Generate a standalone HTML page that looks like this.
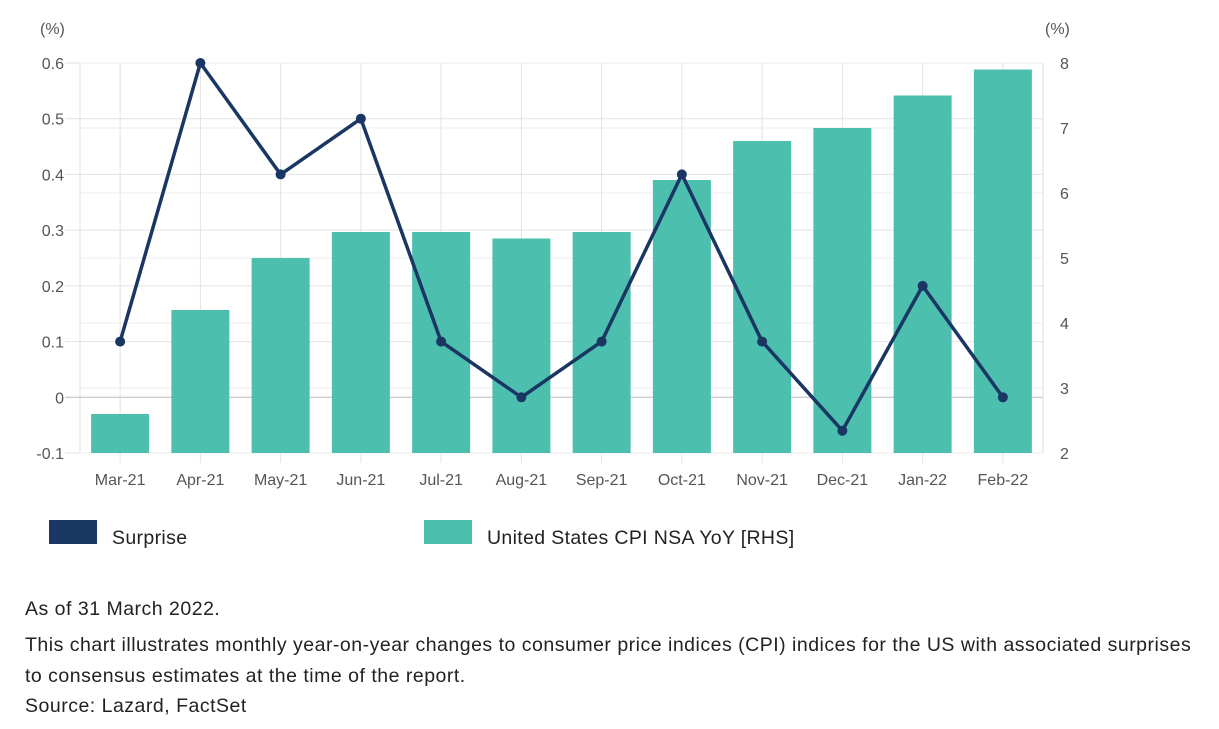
<!DOCTYPE html>
<html><head><meta charset="utf-8"><style>
body{margin:0;background:#fff;font-family:"Liberation Sans",sans-serif;}
.note{position:absolute;left:25px;font-size:19.5px;letter-spacing:0.5px;color:#222;}
</style></head><body>
<svg width="1219" height="729" style="position:absolute;left:0;top:0">
<g id="grid"></g><g id="bars"></g><g id="line"></g><g id="axes"></g>
<text x="40" y="34" font-size="16" fill="#555">(%)</text>
<text x="1045" y="34" font-size="16" fill="#555">(%)</text>
<rect x="49" y="520" width="48" height="24" fill="#1a3663"/>
<text x="112" y="544" font-size="19.5" letter-spacing="0.35" fill="#222">Surprise</text>
<rect x="424" y="520" width="48" height="24" fill="#4dbfae"/>
<text x="487" y="544" font-size="19.5" letter-spacing="0.35" fill="#222">United States CPI NSA YoY [RHS]</text>
</svg>
<div class="note" style="top:598px">As of 31 March 2022.</div>
<div class="note" style="top:630px;line-height:31px;width:1188px">This chart illustrates monthly year-on-year changes to consumer price indices (CPI) indices for the US with associated surprises to consensus estimates at the time of the report.</div>
<div class="note" style="top:695px">Source: Lazard, FactSet</div>
<script>
const categories=["Mar-21","Apr-21","May-21","Jun-21","Jul-21","Aug-21","Sep-21","Oct-21","Nov-21","Dec-21","Jan-22","Feb-22"];
const cpiValues=[2.6,4.2,5.0,5.4,5.4,5.3,5.4,6.2,6.8,7.0,7.5,7.9];
const surpriseValues=[0.1,0.6,0.4,0.5,0.1,0,0.1,0.4,0.1,-0.06,0.2,0];
const leftTicks=[-0.1,0,0.1,0.2,0.3,0.4,0.5,0.6];
const rightTicks=[2,3,4,5,6,7,8];
const NS="http://www.w3.org/2000/svg";
const X0=80,X1=1043,Y0=63,Y1=453;
const bw=(X1-X0)/categories.length;
const xc=i=>X0+bw*(i+0.5);
const yL=v=>Y1-(v+0.1)/0.7*(Y1-Y0);
const yR=v=>Y1-(v-2)/6*(Y1-Y0);
function mk(parent,tag,attrs,txt){const e=document.createElementNS(NS,tag);for(const k in attrs)e.setAttribute(k,attrs[k]);if(txt!==undefined)e.textContent=txt;document.getElementById(parent).appendChild(e);return e;}
leftTicks.forEach(t=>{
 const e=mk("grid","line",{x1:X0-15,x2:X1,y1:yL(t),y2:yL(t),stroke:t===0?"#bbb":"#e2e2e2","stroke-width":1});
 
 
 const l=mk("axes","text",{x:64,y:yL(t)+6,"text-anchor":"end","font-size":16,fill:"#555"},String(t));
 
 
});
rightTicks.forEach(t=>{
 const e=mk("grid","line",{x1:X0,x2:X1,y1:yR(t),y2:yR(t),stroke:"#eee","stroke-width":1});
 
 
 const l=mk("axes","text",{x:1060,y:yR(t)+6,"font-size":16,fill:"#555"},String(t));
 
 
});
mk("grid","line",{x1:X0,x2:X0,y1:Y0,y2:Y1,stroke:"#ddd"});
mk("grid","line",{x1:X1,x2:X1,y1:Y0,y2:Y1,stroke:"#ddd"});
categories.forEach((c,i)=>{
 const g=mk("grid","line",{x1:xc(i),x2:xc(i),y1:Y0,y2:Y1+10,stroke:"#e2e2e2"});
 
 
 const l=mk("axes","text",{x:xc(i),y:485,"text-anchor":"middle","font-size":16,fill:"#555"},c);
 
 
 const b=mk("bars","rect",{x:xc(i)-29,y:yR(cpiValues[i]),width:58,height:Y1-yR(cpiValues[i]),fill:"#4dbfae"});
 
 
});
const pts=surpriseValues.map((v,i)=>xc(i)+","+yL(v)).join(" ");
const pl=mk("line","polyline",{points:pts,fill:"none",stroke:"#1a3663","stroke-width":3.5,"stroke-linejoin":"round"});


surpriseValues.forEach((v,i)=>{
 const p=mk("line","circle",{cx:xc(i),cy:yL(v),r:5,fill:"#1a3663"});
 
 
});
</script>
</body></html>
